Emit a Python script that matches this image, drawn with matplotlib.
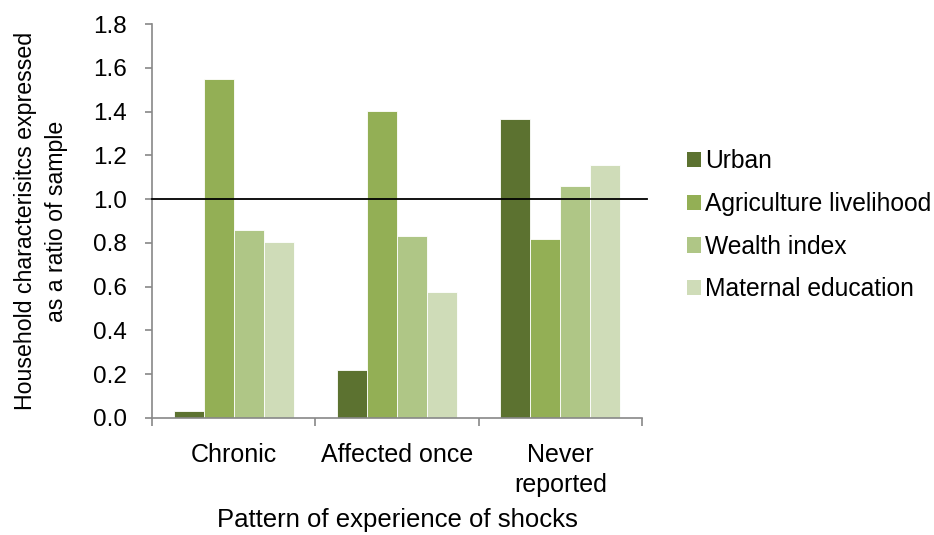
import matplotlib
matplotlib.use("Agg")
import matplotlib.pyplot as plt
import numpy as np
from matplotlib.patches import Patch

categories = ["Chronic", "Affected once", "Never\nreported"]
series = ["Urban", "Agriculture livelihood", "Wealth index", "Maternal education"]
urban = [0.03, 0.22, 1.367]
agri = [1.549, 1.403, 0.82]
wealth = [0.858, 0.831, 1.058]
maternal = [0.804, 0.577, 1.158]
colors = ["#5C7230", "#93AF55", "#AFC686", "#CFDCB8"]
yticks = [0.0, 0.2, 0.4, 0.6, 0.8, 1.0, 1.2, 1.4, 1.6, 1.8]

plt.rcParams['font.family'] = ['Liberation Sans', 'DejaVu Sans']
fig = plt.figure(figsize=(9.34, 5.35), dpi=100)
ax = fig.add_axes([0.1628, 0.2187, 0.5245, 0.7363])

x = np.arange(len(categories))
w = 0.184
data = [urban, agri, wealth, maternal]
for i, (vals, c) in enumerate(zip(data, colors)):
    ax.bar(x + (i - 1.5) * w, vals, width=w, color=c, edgecolor="white", linewidth=0.6, zorder=2)

ax.axhline(1.0, color="black", linewidth=1.3, zorder=3, xmin=0, xmax=1.01, clip_on=False)

ax.set_xlim(-0.5, 2.5)
ax.set_ylim(0, 1.8)
ax.set_yticks(yticks)
ax.set_yticklabels([f"{v:.1f}" for v in yticks], fontsize=17.5)
ax.set_xticks(x)
ax.set_xticklabels(categories, fontsize=18, linespacing=1.3)
ax.tick_params(axis='x', length=0, pad=18)
ax.set_xticks([-0.5, 0.5, 1.5, 2.5], minor=True)
ax.tick_params(axis='x', which='minor', length=6, color="#888888", width=1.2)
ax.tick_params(axis='y', length=5, color="#888888", width=1.2, pad=13)
for s in ["top", "right"]:
    ax.spines[s].set_visible(False)
for s in ["left", "bottom"]:
    ax.spines[s].set_color("#888888")
    ax.spines[s].set_linewidth(1.2)

ax.set_xlabel("Pattern of experience of shocks", fontsize=18.5, labelpad=8)
ax.set_ylabel("Household characterisitcs expressed\nas a ratio of sample", fontsize=16.7, labelpad=18, linespacing=1.45)

handles = [Patch(facecolor=c, label=s) for c, s in zip(colors, series)]
ax.legend(handles=handles, loc="center left", bbox_to_anchor=(1.057, 0.489), frameon=False,
          fontsize=17.7, handlelength=0.58, handleheight=0.58, handletextpad=0.14, labelspacing=0.76,
          borderaxespad=0.3)

fig.savefig("out.png", dpi=100)
